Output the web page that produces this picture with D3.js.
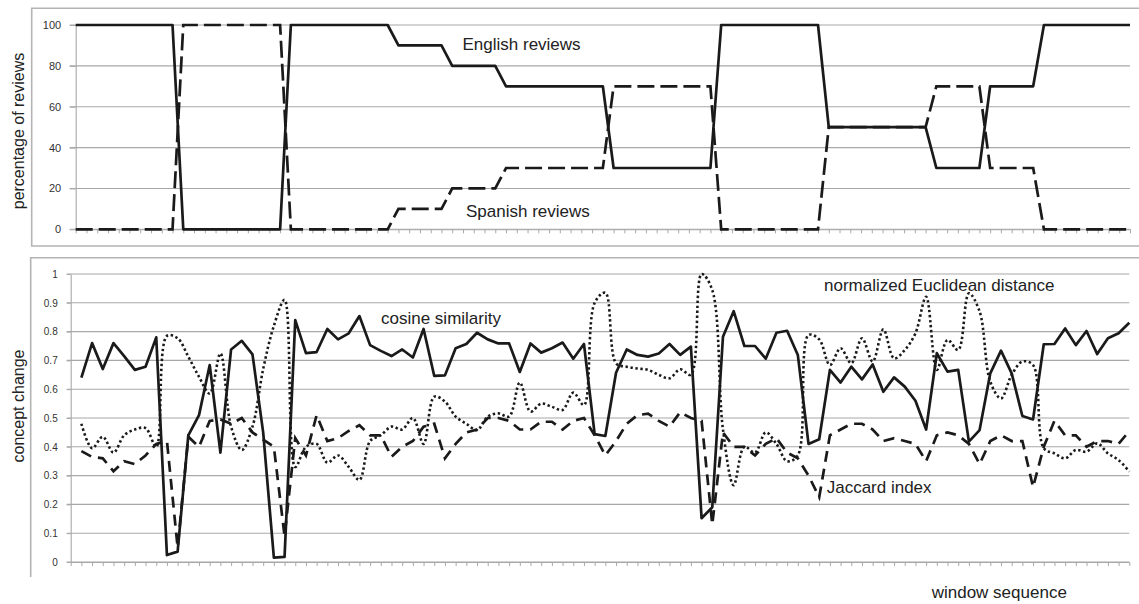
<!DOCTYPE html>
<html>
<head>
<meta charset="utf-8">
<script src="https://cdn.jsdelivr.net/npm/d3@7"></script>
<style>
  body { margin: 0; background: #fff; }
  svg { display: block; }
  text { font-family: "Liberation Sans", Arial, sans-serif; }
</style>
</head>
<body>
<svg id="chart" width="1139" height="604"></svg>
<script>
// ---- data -------------------------------------------------------------
// share of reviews per window (percent), windows 1..99
const englishPct = [
  100,100,100,100,100,100,100,100,100,100,
  0,0,0,0,0,0,0,0,0,0,
  100,100,100,100,100,100,100,100,100,100,
  90,90,90,90,90,80,80,80,80,80,
  70,70,70,70,70,70,70,70,70,70,
  30,30,30,30,30,30,30,30,30,30,
  100,100,100,100,100,100,100,100,100,100,
  50,50,50,50,50,50,50,50,50,50,
  30,30,30,30,30,70,70,70,70,70,
  100,100,100,100,100,100,100,100,100
];
const spanishPct = [
  0,0,0,0,0,0,0,0,0,0,
  100,100,100,100,100,100,100,100,100,100,
  0,0,0,0,0,0,0,0,0,0,
  10,10,10,10,10,20,20,20,20,20,
  30,30,30,30,30,30,30,30,30,30,
  70,70,70,70,70,70,70,70,70,70,
  0,0,0,0,0,0,0,0,0,0,
  50,50,50,50,50,50,50,50,50,50,
  70,70,70,70,70,30,30,30,30,30,
  0,0,0,0,0,0,0,0,0
];

// concept change between consecutive windows (starting at the 2nd window)
const cosineSim = [
  0.64,0.76,0.67,0.76,0.715,0.667,0.678,0.78,0.024,0.036,
  0.44,0.51,0.684,0.38,0.738,0.768,0.721,0.45,0.015,0.018,
  0.84,0.725,0.729,0.809,0.773,0.794,0.854,0.753,0.733,0.715,
  0.738,0.71,0.809,0.646,0.648,0.742,0.757,0.796,0.773,0.759,
  0.759,0.66,0.759,0.727,0.742,0.762,0.706,0.757,0.444,0.4375,
  0.657,0.738,0.719,0.713,0.724,0.757,0.719,0.748,0.152,0.19,
  0.782,0.871,0.75,0.75,0.706,0.796,0.803,0.719,0.41,0.426,
  0.667,0.623,0.678,0.634,0.686,0.591,0.641,0.609,0.56,0.46,
  0.725,0.661,0.667,0.418,0.458,0.655,0.734,0.655,0.507,0.495,
  0.756,0.757,0.811,0.753,0.802,0.722,0.777,0.794,0.831
];
const euclidean = [
  0.48,0.395,0.435,0.38,0.44,0.46,0.465,0.40,0.785,0.777,
  0.713,0.643,0.585,0.724,0.47,0.389,0.47,0.67,0.82,0.91,
  0.33,0.40,0.41,0.345,0.37,0.33,0.285,0.42,0.44,0.47,
  0.46,0.50,0.41,0.574,0.557,0.505,0.48,0.458,0.505,0.516,
  0.505,0.623,0.522,0.55,0.539,0.528,0.588,0.545,0.90,0.935,
  0.69,0.678,0.672,0.667,0.65,0.638,0.669,0.65,1.0,0.944,
  0.46,0.267,0.40,0.38,0.45,0.41,0.35,0.37,0.788,0.773,
  0.684,0.742,0.69,0.777,0.696,0.808,0.707,0.736,0.794,0.921,
  0.667,0.771,0.736,0.933,0.87,0.626,0.568,0.65,0.696,0.684,
  0.395,0.377,0.36,0.389,0.383,0.412,0.377,0.354,0.314
];
const jaccard = [
  0.385,0.365,0.36,0.315,0.35,0.34,0.37,0.41,0.42,0.05,
  0.435,0.40,0.49,0.495,0.48,0.50,0.45,0.425,0.40,0.09,
  0.43,0.37,0.51,0.42,0.43,0.455,0.475,0.44,0.44,0.365,
  0.40,0.42,0.47,0.48,0.36,0.41,0.45,0.46,0.50,0.50,
  0.49,0.46,0.46,0.487,0.487,0.46,0.49,0.50,0.44,0.37,
  0.42,0.48,0.51,0.515,0.49,0.47,0.52,0.50,0.49,0.13,
  0.45,0.40,0.40,0.37,0.41,0.43,0.38,0.36,0.30,0.225,
  0.44,0.46,0.48,0.48,0.46,0.42,0.43,0.42,0.41,0.35,
  0.44,0.45,0.44,0.41,0.34,0.42,0.44,0.42,0.42,0.26,
  0.40,0.49,0.44,0.44,0.40,0.42,0.42,0.41,0.455
];

const pctTicks = [0, 20, 40, 60, 80, 100];
const changeTicks = [0, 0.1, 0.2, 0.3, 0.4, 0.5, 0.6, 0.7, 0.8, 0.9, 1];

// ---- drawing ----------------------------------------------------------
const svg = d3.select("#chart");
const gridColor = "#a8a8a8";
const frameColor = "#b4b4b4";
const ink = "#1a1a1a";
const labelInk = "#222";

// panel frames
svg.append("path")
  .attr("d", "M1139,8.3H31.7V246H1139")
  .attr("fill", "none").attr("stroke", frameColor).attr("stroke-width", 1.6);
svg.append("path")
  .attr("d", "M1139,257.7H30.7V577")
  .attr("fill", "none").attr("stroke", frameColor).attr("stroke-width", 1.6);

function drawPanel(opts) {
  const g = svg.append("g");
  const x0 = opts.x.range()[0], x1 = opts.x.range()[1];

  // horizontal gridlines
  g.selectAll("line.grid").data(opts.ticks).join("line")
    .attr("class", "grid")
    .attr("x1", x0 - opts.tickLen).attr("x2", x1)
    .attr("y1", d => opts.y(d)).attr("y2", d => opts.y(d))
    .attr("stroke", gridColor).attr("stroke-width", 1.1);

  // value axis
  const yAxis = d3.axisLeft(opts.y).tickValues(opts.ticks)
    .tickSize(opts.tickLen).tickSizeOuter(0).tickPadding(opts.pad)
    .tickFormat(opts.fmt);
  const ya = g.append("g").attr("transform", `translate(${x0},0)`).call(yAxis);
  ya.select(".domain").attr("stroke", gridColor).attr("stroke-width", 1.1);
  ya.selectAll(".tick line").attr("stroke", gridColor);
  ya.selectAll(".tick text")
    .attr("fill", "#333")
    .style("font-family", '"Liberation Sans", Arial, sans-serif')
    .style("font-size", opts.tickFont + "px");

  // category axis
  const xAxis = d3.axisBottom(opts.x).tickSize(4).tickSizeOuter(0).tickFormat("");
  const xa = g.append("g").attr("transform", `translate(0,${opts.y(0)})`).call(xAxis);
  xa.select(".domain").attr("stroke", gridColor).attr("stroke-width", 1.1);
  xa.selectAll(".tick line").attr("stroke", gridColor);

  // axis title
  g.append("text")
    .attr("transform", `translate(18,${opts.titleY}) rotate(-90)`)
    .attr("text-anchor", "middle").attr("dy", "0.35em")
    .attr("fill", labelInk).style("font-size", "16px")
    .text(opts.title);
  return g;
}

// ---- top panel: language mix -----------------------------------------
const xTop = d3.scalePoint().domain(d3.range(englishPct.length)).range([75.7, 1130]);
const yTop = d3.scaleLinear().domain([0, 100]).range([229.3, 25]);
const gTop = drawPanel({
  x: xTop, y: yTop, ticks: pctTicks, tickLen: 6, pad: 8.5, tickFont: 11,
  fmt: d3.format("d"), title: "percentage of reviews", titleY: 131
});
const lineTop = d3.line().x((d, i) => xTop(i)).y(d => yTop(d));
gTop.append("path").datum(spanishPct).attr("d", lineTop)
  .attr("fill", "none").attr("stroke", ink).attr("stroke-width", 2.7)
  .attr("stroke-dasharray", "17,6");
gTop.append("path").datum(englishPct).attr("d", lineTop)
  .attr("fill", "none").attr("stroke", ink).attr("stroke-width", 2.7)
  .attr("stroke-linejoin", "round");

gTop.append("text").attr("x", 462.5).attr("y", 44.3).attr("dy", "0.35em")
  .attr("fill", labelInk).style("font-size", "17px").text("English reviews");
gTop.append("text").attr("x", 466).attr("y", 211).attr("dy", "0.35em")
  .attr("fill", labelInk).style("font-size", "17px").text("Spanish reviews");

// ---- bottom panel: concept change ------------------------------------
const xBot = d3.scalePoint().domain(d3.range(cosineSim.length + 1)).range([70.7, 1129.3]);
const yBot = d3.scaleLinear().domain([0, 1]).range([562, 274]);
const gBot = drawPanel({
  x: xBot, y: yBot, ticks: changeTicks, tickLen: 4, pad: 9, tickFont: 10,
  fmt: d => d3.format("~g")(d), title: "concept change", titleY: 406
});

const lineBot = d3.line().x((d, i) => xBot(i + 1)).y(d => yBot(d));
const smoothBot = d3.line().x((d, i) => xBot(i + 1)).y(d => yBot(d))
  .curve(d3.curveCatmullRom.alpha(0.5));

gBot.append("path").datum(euclidean).attr("d", smoothBot)
  .attr("fill", "none").attr("stroke", ink).attr("stroke-width", 2.6)
  .attr("stroke-dasharray", "2.4,2.6");
gBot.append("path").datum(jaccard).attr("d", lineBot)
  .attr("fill", "none").attr("stroke", ink).attr("stroke-width", 2.7)
  .attr("stroke-dasharray", "11,7");
gBot.append("path").datum(cosineSim).attr("d", lineBot)
  .attr("fill", "none").attr("stroke", ink).attr("stroke-width", 2.7)
  .attr("stroke-linejoin", "round");

gBot.append("text").attr("x", 381).attr("y", 318.3).attr("dy", "0.35em")
  .attr("fill", labelInk).style("font-size", "17px").text("cosine similarity");
gBot.append("text").attr("x", 824).attr("y", 285).attr("dy", "0.35em")
  .attr("fill", labelInk).style("font-size", "17px").text("normalized Euclidean distance");
gBot.append("text").attr("x", 826.7).attr("y", 487.3).attr("dy", "0.35em")
  .attr("fill", labelInk).style("font-size", "17px").text("Jaccard index");
svg.append("text").attr("x", 931.7).attr("y", 591.7).attr("dy", "0.35em")
  .attr("fill", labelInk).style("font-size", "17px").text("window sequence");
</script>
</body>
</html>
